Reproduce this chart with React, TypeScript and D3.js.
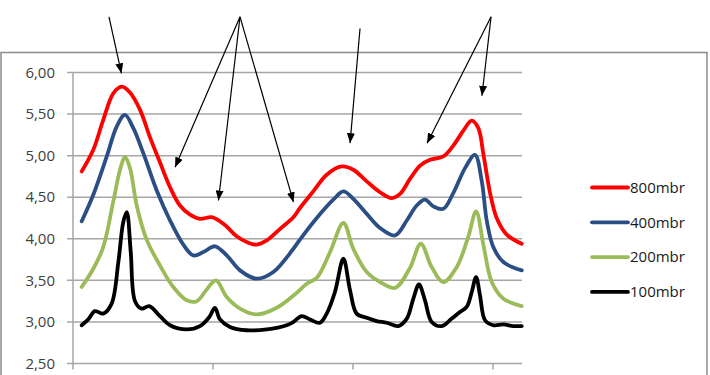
import React from 'react';
import * as d3 from 'd3';

// x in chart units (tick marks every 100), y in the plotted value
const red800 = [
  [6.2, 4.81], [14.5, 5.07], [21.6, 5.43], [28.8, 5.75], [34.8, 5.83], [40.7, 5.76], [47.9, 5.55],
  [55, 5.22], [62.1, 4.92], [69.3, 4.62], [76.4, 4.4], [83.6, 4.29], [90.7, 4.24], [99.1, 4.26],
  [107.4, 4.18], [116.9, 4.03], [124.1, 3.96], [131.2, 3.93], [138.4, 3.98], [147.9, 4.12],
  [157.4, 4.26], [162.1, 4.37], [171.6, 4.57], [181.2, 4.77], [191.9, 4.87], [200.2, 4.83],
  [209.8, 4.69], [219.3, 4.56], [227.6, 4.49], [233.6, 4.54], [240.7, 4.72], [247.9, 4.88],
  [255, 4.95], [264.5, 4.99], [271.6, 5.12], [278.8, 5.3], [284.8, 5.42], [289.5, 5.33],
  [293.1, 5.02], [297.9, 4.55], [302.6, 4.25], [309.8, 4.05], [320.5, 3.94],
];
const blue400 = [
  [6.2, 4.21], [14.5, 4.53], [24.1, 4.99], [31.2, 5.35], [37.1, 5.49], [43.1, 5.33], [50.2, 5.03],
  [59.8, 4.58], [69.3, 4.22], [78.8, 3.93], [85.9, 3.8], [93.1, 3.84], [101.4, 3.91], [109.8, 3.8],
  [119.3, 3.62], [131.2, 3.52], [143.1, 3.6], [157.4, 3.88], [162.1, 3.99], [174.1, 4.25],
  [185.9, 4.47], [193.1, 4.57], [200.2, 4.48], [209.8, 4.3], [219.3, 4.13], [230, 4.04],
  [238.4, 4.22], [245.5, 4.4], [251.4, 4.47], [257.4, 4.39], [264.5, 4.36], [271.6, 4.55],
  [280, 4.85], [287.1, 5.01], [291.9, 4.7], [295.5, 4.22], [300.2, 3.9], [307.4, 3.72], [320.5, 3.62],
];
const green200 = [
  [6.2, 3.42], [14.5, 3.64], [21.6, 3.9], [28.8, 4.45], [33.6, 4.83], [37.1, 4.98], [40.7, 4.85],
  [45.5, 4.4], [52.6, 3.99], [62.1, 3.68], [71.6, 3.42], [81.2, 3.26], [88.4, 3.25], [95.5, 3.39],
  [102.1, 3.5], [109.8, 3.3], [119.3, 3.16], [131.2, 3.09], [145.5, 3.17], [159.8, 3.35],
  [166.9, 3.46], [174.1, 3.53], [183.6, 3.84], [193.1, 4.19], [200.2, 3.88], [209.8, 3.6],
  [219.3, 3.48], [230, 3.41], [240.7, 3.65], [248.4, 3.94], [256.2, 3.66], [264.5, 3.48],
  [274.1, 3.66], [282.4, 4.03], [287.9, 4.33], [293.1, 3.93], [299.1, 3.48], [307.4, 3.28], [320.5, 3.19],
];
const black100 = [
  [6.2, 2.96], [10.9, 3.03], [15.7, 3.13], [21.6, 3.1], [27.6, 3.22], [32.4, 3.72], [35.9, 4.2],
  [38.4, 4.32], [41.2, 3.85], [44.3, 3.25], [49.1, 3.16], [54.5, 3.19], [62.1, 3.07], [69.3, 2.96],
  [81.2, 2.91], [90.7, 2.95], [97.4, 3.06], [101.4, 3.17], [105, 3.03], [112.1, 2.94], [124.1, 2.9],
  [138.4, 2.91], [152.6, 2.96], [157.4, 3.0], [163.4, 3.07], [169.3, 3.03], [176.4, 2.99], [181.2, 3.1],
  [187.1, 3.36], [193.1, 3.76], [197.9, 3.38], [202.6, 3.1], [209.8, 3.05], [216.9, 3.01],
  [224.1, 2.99], [232.4, 2.95], [238.4, 3.04], [243.1, 3.28], [247.1, 3.45], [251.4, 3.26],
  [256.2, 3.0], [263.4, 2.95], [270.5, 3.04], [276.4, 3.12], [281.2, 3.18], [284.8, 3.36],
  [287.9, 3.54], [290.7, 3.32], [294.3, 3.02], [300.2, 2.96], [307.4, 2.97], [314.5, 2.95], [320.5, 2.95],
];

const seriesNames = ['800mbr', '400mbr', '200mbr', '100mbr'];
const seriesColors = ['#ff0000', '#2b4f84', '#9bbb59', '#000000'];
const seriesData = [red800, blue400, green200, black100];

const yTicks = [2.5, 3, 3.5, 4, 4.5, 5, 5.5, 6];
const xTicks = [0, 100, 200, 300];

// annotation arrows: [tailX, tailY, tipX, tipY] in chart units
const arrows = [
  [25.7, 6.67, 34.6, 5.99],
  [119.3, 6.67, 72.9, 4.86],
  [119.3, 6.67, 103.9, 4.46],
  [119.3, 6.67, 157.5, 4.44],
  [205, 6.53, 197.9, 5.15],
  [298.6, 6.67, 252.9, 5.15],
  [298.6, 6.67, 292.1, 5.72],
];

const W = 710;
const H = 375;

const comma = d3.formatLocale({ decimal: ',', thousands: '.', grouping: [3], currency: ['', ''] }).format('.2f');

export default function App() {
  const x = d3.scaleLinear().domain([0, 320.7]).range([73, 522]);
  const y = d3.scaleLinear().domain([2.5, 6]).range([363.5, 72.5]);
  const line = d3
    .line<number[]>()
    .x((d) => x(d[0]))
    .y((d) => y(d[1]))
    .curve(d3.curveCatmullRom.alpha(0.5));

  return (
    <svg width={W} height={H} style={{ position: 'absolute', left: 0, top: 0, background: '#fff' }}>
      <defs>
        <marker id="head" viewBox="0 0 10 8" refX="10" refY="4" markerWidth="10" markerHeight="8" markerUnits="userSpaceOnUse" orient="auto">
          <path d="M0,0 L10,4 L0,8 Z" fill="#000" />
        </marker>
      </defs>
      <rect x={1} y={52.5} width={706} height={340} fill="#fff" stroke="#8c8c8c" strokeWidth={1.5} />

      {yTicks.map((t) => (
        <g key={t}>
          <line x1={67} x2={x(320.7)} y1={y(t)} y2={y(t)} stroke="#a6a6a6" strokeWidth={1.5} />
          <text x={55} y={y(t)} dy="0.35em" textAnchor="end" fontFamily="Open Sans, sans-serif" fontSize={15} fill="#404040">
            {comma(t)}
          </text>
        </g>
      ))}
      <line x1={x(0)} x2={x(0)} y1={y(6)} y2={y(2.5)} stroke="#a6a6a6" strokeWidth={1.5} />
      {xTicks.map((t) => (
        <line key={t} x1={x(t)} x2={x(t)} y1={y(2.5)} y2={y(2.5) + 6} stroke="#a6a6a6" strokeWidth={1.5} />
      ))}

      {seriesData.map((d, i) => (
        <path key={seriesNames[i]} d={line(d) || ''} fill="none" stroke={seriesColors[i]} strokeWidth={3.8} strokeLinejoin="round" strokeLinecap="round" />
      ))}

      {arrows.map((a, i) => (
        <line key={i} x1={x(a[0])} y1={y(a[1])} x2={x(a[2])} y2={y(a[3])} stroke="#000" strokeWidth={1.2} markerEnd="url(#head)" />
      ))}

      {seriesNames.map((n, i) => (
        <g key={n} transform={`translate(592, ${187.5 + i * 34.8})`}>
          <line x1={0} x2={36} y1={0} y2={0} stroke={seriesColors[i]} strokeWidth={3.8} strokeLinecap="round" />
          <text x={38} y={0} dy="0.35em" fontFamily="Open Sans, sans-serif" fontSize={15} fill="#1a1a1a">
            {n}
          </text>
        </g>
      ))}
    </svg>
  );
}
